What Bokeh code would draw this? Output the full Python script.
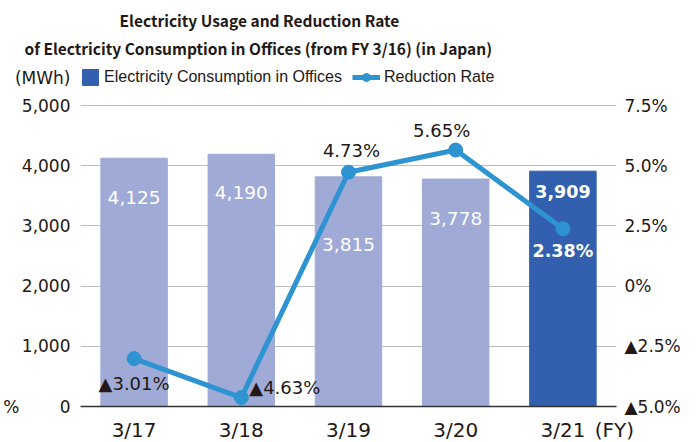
from bokeh.plotting import figure
from bokeh.models import (Range1d, LinearAxis, Legend, LegendItem, Title,
                          ColumnDataSource, FixedTicker)
from bokeh.core.properties import value
from bokeh.embed import file_html
from bokeh.resources import INLINE

years = ["3/17", "3/18", "3/19", "3/20", "3/21"]
usage = [4125, 4190, 3815, 3778, 3909]
rate = [-3.01, -4.63, 4.73, 5.65, 2.38]
usage_ticks = [0, 1000, 2000, 3000, 4000, 5000]
pct_ticks = [-5, -2.5, 0, 2.5, 5, 7.5]
pct_tick_labels = ["▲5.0%", "▲2.5%", "0%", "2.5%", "5.0%", "7.5%"]
title_lines = ["Electricity Usage and Reduction Rate",
               "of Electricity Consumption in Offices (from FY 3/16) (in Japan)"]
usage_unit = "(MWh)"
rate_unit = "%"
year_unit = "(FY)"

NUM_FONT = "DejaVu Sans"
TXT_FONT = "Liberation Sans"
TITLE_FONT = "Noto Sans CJK JP"
TXT = "#231815"
LIGHT = "#A0AAD6"
DARK = "#3260AE"
LINEC = "#2E93D1"

# ---- layout (page geometry) ----
FRAME_L, FRAME_R, FRAME_T, FRAME_B = 76, 612, 60, 406
AX_TOP_PX = 105            # pixel row of 5,000 / 7.5%
px_per_u = (FRAME_B - AX_TOP_PX) / 5000.0
px_per_p = (FRAME_B - AX_TOP_PX) / 12.5
y_top = 5000 + (AX_TOP_PX - FRAME_T) / px_per_u
p_top = 7.5 + (AX_TOP_PX - FRAME_T) / px_per_p
unit_row_y = 5000 + (AX_TOP_PX - 77) / px_per_u     # "(MWh)" row
fy_x = 4.98                                          # "(FY)" position on x

# label placement (layout only)
usage_label_y = [3472, 3555, 2691, 3123, 3571]
rate_label_dx = [0, 8, 3, -14, 0]
rate_label_dy = [25, -10, -22, -20, 22]
rate_label_align = ["center", "left", "center", "center", "center"]

def fmt_rate(r):
    return ("▲%.2f%%" % -r) if r < 0 else ("%.2f%%" % r)

xs = [i + 0.5 for i in range(len(years))]
n = len(years)
src = ColumnDataSource(dict(
    x=xs, usage=usage, rate=rate,
    color=[LIGHT] * (n - 1) + [DARK],
    utext=[f"{v:,}" for v in usage],
    uy=usage_label_y,
    rtext=[fmt_rate(r) for r in rate],
    rcolor=[TXT] * (n - 1) + ["white"],
    rweight=["normal"] * (n - 1) + ["bold"],
    uweight=["normal"] * (n - 1) + ["bold"],
    usize=["18.5px"] * (n - 1) + ["17.5px"],
    rsize=["18px"] * (n - 1) + ["17.5px"],
    dx=rate_label_dx, dy=rate_label_dy, ralign=rate_label_align,
))

p = figure(x_range=Range1d(0, n), y_range=Range1d(0, y_top),
           frame_width=FRAME_R - FRAME_L, frame_height=FRAME_B - FRAME_T,
           min_border_left=FRAME_L, min_border_right=696 - FRAME_R,
           min_border_top=FRAME_T, min_border_bottom=442 - FRAME_B,
           output_backend="svg", toolbar_location=None)
p.extra_y_ranges = {"pct": Range1d(-5, p_top)}
p.outline_line_color = None
p.background_fill_color = "white"
p.border_fill_color = "white"
p.xgrid.grid_line_color = None
p.ygrid.grid_line_color = "#BDBDBD"
p.ygrid.ticker = FixedTicker(ticks=usage_ticks[1:])

def style_axis(ax, size="17px", standoff=10):
    ax.axis_line_color = None
    ax.major_tick_line_color = None
    ax.minor_tick_line_color = None
    ax.major_tick_out = 0
    ax.major_tick_in = 0
    ax.minor_tick_out = 0
    ax.major_label_standoff = standoff
    ax.major_label_text_font = NUM_FONT
    ax.major_label_text_font_size = size
    ax.major_label_text_color = TXT

# left axis (with unit row)
ya = p.yaxis[0]
ya.ticker = FixedTicker(ticks=usage_ticks + [unit_row_y])
ya.major_label_overrides = {**{t: f"{t:,}" for t in usage_ticks}, unit_row_y: usage_unit}
style_axis(ya, "17px", 10)

# outer left axis: "%" marker
pa = LinearAxis(ticker=FixedTicker(ticks=[0]), major_label_overrides={0: rate_unit})
style_axis(pa, "17px", -8)
p.add_layout(pa, "left")

# right axis
ra = LinearAxis(y_range_name="pct", ticker=FixedTicker(ticks=pct_ticks),
                major_label_overrides={t: l for t, l in zip(pct_ticks, pct_tick_labels)})
style_axis(ra, "17px", 8)
p.add_layout(ra, "right")

# bottom axis
xa = p.xaxis[0]
style_axis(xa, "20px", 11)
xa.axis_line_color = "#333333"
xa.axis_line_width = 1.5
xa.ticker = FixedTicker(ticks=xs + [fy_x])
xa.major_label_overrides = {**{x: y for x, y in zip(xs, years)}, fy_x: year_unit}

bars = p.vbar(x="x", top="usage", width=0.62, color="color", source=src)
line = p.line(x="x", y="rate", y_range_name="pct", line_width=5, line_color=LINEC, source=src)
dots = p.scatter(x="x", y="rate", y_range_name="pct", size=14, color=LINEC, source=src)

p.text(x="x", y="uy", text="utext", source=src, text_color="white",
       text_font=value(NUM_FONT), text_font_size="usize", text_font_style="uweight",
       text_align="center", text_baseline="middle")
p.text(x="x", y="rate", y_range_name="pct", text="rtext", source=src, text_color="rcolor",
       text_font=value(NUM_FONT), text_font_size="rsize", text_font_style="rweight",
       text_align="ralign", text_baseline="middle", x_offset="dx", y_offset="dy")

# titles (nearest to plot first)
p.add_layout(Title(text=title_lines[1], align="left", offset=-56, standoff=3,
                   text_font=TITLE_FONT, text_font_size="15.5px", text_font_style="bold",
                   text_color=TXT), "above")
p.add_layout(Title(text=title_lines[0], align="left", offset=39, standoff=5,
                   text_font=TITLE_FONT, text_font_size="15.5px", text_font_style="bold",
                   text_color=TXT), "above")

common = dict(orientation="horizontal", padding=0, margin=0, border_line_color=None,
              background_fill_alpha=0, glyph_height=20, label_height=20,
              label_text_font=TXT_FONT, label_text_font_size="16px", label_text_color=TXT)
leg1 = Legend(items=[LegendItem(label="Electricity Consumption in Offices", renderers=[bars], index=n - 1)],
              location=(0, FRAME_B - 87), glyph_width=20, label_standoff=4, **common)
leg2 = Legend(items=[LegendItem(label="Reduction Rate", renderers=[line, dots])],
              location=(348 - FRAME_L, FRAME_B - 87), glyph_width=28, label_standoff=4, **common)
p.add_layout(leg1, "center")
p.add_layout(leg2, "center")

open("out.html", "w").write(file_html(p, INLINE))
